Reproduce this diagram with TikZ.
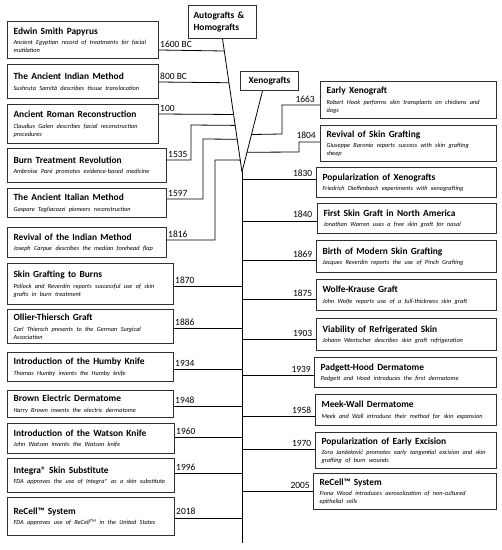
\documentclass[tikz,border=0pt]{standalone}
\usepackage{fontspec}
\setmainfont{Carlito}
\usetikzlibrary{calc}
\definecolor{boxc}{HTML}{303030}
\newcommand{\evt}[1]{{\fontsize{9.4}{11}\selectfont\bfseries #1\par}}
\newcommand{\evd}[1]{{\fontsize{6.3}{8}\selectfont\itshape\vspace{2.5pt}#1\par}}
\begin{document}
\begin{tikzpicture}[x=1pt,y=-1pt,
 evbox/.style={draw=boxc, line width=1.1pt, anchor=north west, inner xsep=6pt, inner ysep=2pt, align=left},
 catbox/.style={draw=boxc, line width=1.1pt, anchor=north west, inner xsep=5pt, inner ysep=2pt, align=left, font=\fontsize{9.4}{11.5}\selectfont\bfseries},
 conn/.style={draw=black, line width=0.8pt},
 yrl/.style={inner sep=0pt, font=\fontsize{9.5}{11}\selectfont}]
\useasboundingbox (0,0) rectangle (502,550);
\fill[white] (0,0) rectangle (502,550);

% category boxes
\node[catbox, text width=58pt, minimum width=68pt, minimum height=33pt] (ag) at (188,5) {Autografts \&\\Homografts};
\node[catbox, align=center, minimum width=58pt, minimum height=19pt, inner ysep=1pt] (xg) at (240,71) {Xenografts};
\coordinate (agtop) at (ag.south);
\coordinate (xgtop) at ($(xg.south west)!0.38!(xg.south east)$);
\coordinate (apex) at (242,172);
\coordinate (tend) at (242,543);

% left boxes
\node[evbox, text width=139pt, minimum width=151pt, minimum height=37pt] (e1) at (7,21) {\evt{Edwin Smith Papyrus}\evd{Ancient Egyptian record of treatments for facial\newline mutilation}};
\node[evbox, text width=139pt, minimum width=151pt, minimum height=34pt] (e2) at (7,64) {\evt{The Ancient Indian Method}\evd{Sushruta Samitā describes tissue translocation}};
\node[evbox, text width=139pt, minimum width=151pt, minimum height=39pt] (e3) at (7,104) {\evt{Ancient Roman Reconstruction}\evd{Claudius Galen describes facial reconstruction\newline procedures}};
\node[evbox, text width=147pt, minimum width=159pt, minimum height=34pt] (e4) at (7,148) {\evt{Burn Treatment Revolution}\evd{Ambroise Paré promotes evidence-based medicine}};
\node[evbox, text width=147pt, minimum width=159pt, minimum height=29pt] (e5) at (7,188) {\evt{The Ancient Italian Method}\evd{Gaspare Tagliacozzi pioneers reconstruction}};
\node[evbox, text width=147pt, minimum width=159pt, minimum height=30pt] (e6) at (7,227) {\evt{Revival of the Indian Method}\evd{Joseph Carpue describes the median forehead flap}};
\node[evbox, text width=154pt, minimum width=166pt, minimum height=41pt] (e7) at (7,263) {\evt{Skin Grafting to Burns}\evd{Pollock and Reverdin reports successful use of skin\newline grafts in burn treatment}};
\node[evbox, text width=154pt, minimum width=166pt, minimum height=34pt] (e8) at (7,309) {\evt{Ollier-Thiersch Graft}\evd{Carl Thiersch presents to the German Surgical\newline Association}};
\node[evbox, text width=154pt, minimum width=166pt, minimum height=29pt] (e9) at (7,352) {\evt{Introduction of the Humby Knife}\evd{Thomas Humby invents the Humby knife}};
\node[evbox, text width=154pt, minimum width=166pt, minimum height=27pt] (e10) at (7,390) {\evt{Brown Electric Dermatome}\evd{Harry Brown invents the electric dermatome}};
\node[evbox, text width=155pt, minimum width=167pt, minimum height=30pt] (e11) at (7,423) {\evt{Introduction of the Watson Knife}\evd{John Watson invents the Watson knife}};
\node[evbox, text width=155pt, minimum width=167pt, minimum height=34pt] (e12) at (7,458) {\evt{Integra® Skin Substitute}\evd{FDA approves the use of Integra® as a skin substitute}};
\node[evbox, text width=155pt, minimum width=167pt, minimum height=38pt] (e13) at (7,497) {\evt{ReCell™ System}\evd{FDA approves use of ReCell\textsuperscript{TM} in the United States}};

% right boxes
\node[evbox, text width=164pt, minimum width=176pt, minimum height=37pt] (x1) at (320,81) {\evt{Early Xenograft}\evd{Robert Hook performs skin transplants on chickens and\newline dogs}};
\node[evbox, text width=164pt, minimum width=176pt, minimum height=36pt] (x2) at (320,125) {\evt{Revival of Skin Grafting}\evd{Giuseppe Baronio reports success with skin grafting\newline sheep}};
\node[evbox, text width=168pt, minimum width=180pt, minimum height=30pt] (x3) at (316,167) {\evt{Popularization of Xenografts}\evd{Friedrich Dieffenbach experiments with xenografting}};
\node[evbox, text width=167pt, minimum width=179pt, minimum height=30pt] (x4) at (317,203) {\evt{First Skin Graft in North America}\evd{Jonathan Warren uses a free skin graft for nasal}};
\node[evbox, text width=168pt, minimum width=180pt, minimum height=32pt] (x5) at (316,240) {\evt{Birth of Modern Skin Grafting}\evd{Jacques Reverdin reports the use of Pinch Grafting}};
\node[evbox, text width=168pt, minimum width=180pt, minimum height=31pt] (x6) at (316,279) {\evt{Wolfe-Krause Graft}\evd{John Wolfe reports use of a full-thickness skin graft}};
\node[evbox, text width=168pt, minimum width=180pt, minimum height=32pt] (x7) at (316,318) {\evt{Viability of Refrigerated Skin}\evd{Johann Wentscher describes skin graft refrigeration}};
\node[evbox, text width=170pt, minimum width=182pt, minimum height=30pt] (x8) at (314,357) {\evt{Padgett-Hood Dermatome}\evd{Padgett and Hood introduces the first dermatome}};
\node[evbox, text width=169pt, minimum width=181pt, minimum height=31pt] (x9) at (315,394) {\evt{Meek-Wall Dermatome}\evd{Meek and Wall introduce their method for skin expansion}};
\node[evbox, text width=169pt, minimum width=181pt, minimum height=36pt] (x10) at (315,432) {\evt{Popularization of Early Excision}\evd{Zora Janžeković promotes early tangential excision and skin\newline grafting of burn wounds}};
\node[evbox, text width=171pt, minimum width=183pt, minimum height=36pt] (x11) at (313,473) {\evt{ReCell™ System}\evd{Fiona Wood introduces aerosolization of non-cultured\newline epithelial cells}};

% trunk
\draw[conn] (agtop) -- (apex);
\draw[conn] (xgtop) -- (apex);
\draw[conn] (apex) -- (tend);

% left connectors
\draw[conn] (e1.east |- 0,50) -- ($(agtop)!{(50-38)/134}!(apex)$);
\draw[conn] (e2.east |- 0,82) -- ($(agtop)!{(82-38)/134}!(apex)$);
\draw[conn] (e3.east |- 0,114) -- ($(agtop)!{(114-38)/134}!(apex)$);
\draw[conn] (e4.east |- 0,160) -| (191,125) -- ($(agtop)!{(125-38)/134}!(apex)$);
\draw[conn] (e5.east |- 0,199) -| (203,139) -- ($(agtop)!{(139-38)/134}!(apex)$);
\draw[conn] (e6.east |- 0,240) -| (215,160) -- ($(agtop)!{(160-38)/134}!(apex)$);
\draw[conn] (e7.east |- 0,286) -- (apex |- 0,286);
\draw[conn] (e8.east |- 0,328) -- (apex |- 0,328);
\draw[conn] (e9.east |- 0,369) -- (apex |- 0,369);
\draw[conn] (e10.east |- 0,406) -- (apex |- 0,406);
\draw[conn] (e11.east |- 0,437) -- (apex |- 0,437);
\draw[conn] (e12.east |- 0,473) -- (apex |- 0,473);
\draw[conn] (e13.east |- 0,518) -- (apex |- 0,518);

% right connectors
\draw[conn] (x1.west |- 0,105) -| (282,134) -- ($(xgtop)!{(134-90)/82}!(apex)$);
\draw[conn] (x2.west |- 0,142) -| (299,152) -- ($(xgtop)!{(152-90)/82}!(apex)$);
\draw[conn] (x3.west |- 0,179) -- (apex |- 0,179);
\draw[conn] (x4.west |- 0,221) -- (apex |- 0,221);
\draw[conn] (x5.west |- 0,260) -- (apex |- 0,260);
\draw[conn] (x6.west |- 0,299) -- (apex |- 0,299);
\draw[conn] (x7.west |- 0,339) -- (apex |- 0,339);
\draw[conn] (x8.west |- 0,375) -- (apex |- 0,375);
\draw[conn] (x9.west |- 0,416) -- (apex |- 0,416);
\draw[conn] (x10.west |- 0,449) -- (apex |- 0,449);
\draw[conn] (x11.west |- 0,491) -- (apex |- 0,491);

% left year labels
\node[yrl, anchor=base west] (l1) at (160,47.5) {1600 BC};
\node[yrl, anchor=base west] (l2) at (160,79.5) {800 BC};
\node[yrl, anchor=base west] (l3) at (160,111) {100};
\node[yrl, anchor=base west] (l4) at (168,157.5) {1535};
\node[yrl, anchor=base west] (l5) at (168,196) {1597};
\node[yrl, anchor=base west] (l6) at (168,237) {1816};
\node[yrl, anchor=base west] (l7) at (175,283) {1870};
\node[yrl, anchor=base west] (l8) at (175,325) {1886};
\node[yrl, anchor=base west] (l9) at (175,366) {1934};
\node[yrl, anchor=base west] (l10) at (175,403) {1948};
\node[yrl, anchor=base west] (l11) at (176,434) {1960};
\node[yrl, anchor=base west] (l12) at (176,470) {1996};
\node[yrl, anchor=base west] (l13) at (176,514) {2018};

% right year labels
\node[yrl, anchor=base east] (r1) at (315,102.5) {1663};
\node[yrl, anchor=base east] (r2) at (316,138.5) {1804};
\node[yrl, anchor=base east] (r3) at (312.5,176.5) {1830};
\node[yrl, anchor=base east] (r4) at (312.5,217.5) {1840};
\node[yrl, anchor=base east] (r5) at (312.5,257) {1869};
\node[yrl, anchor=base east] (r6) at (312.5,296) {1875};
\node[yrl, anchor=base east] (r7) at (312.5,336) {1903};
\node[yrl, anchor=base east] (r8) at (311,372) {1939};
\node[yrl, anchor=base east] (r9) at (311.5,413) {1958};
\node[yrl, anchor=base east] (r10) at (311.5,446) {1970};
\node[yrl, anchor=base east] (r11) at (310,488) {2005};
\end{tikzpicture}
\end{document}
